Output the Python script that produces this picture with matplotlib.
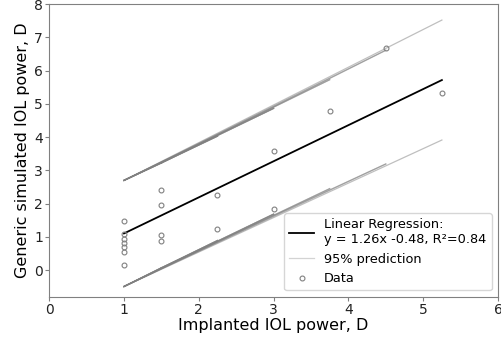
import matplotlib
matplotlib.use("Agg")
import matplotlib.pyplot as plt
import numpy as np

# implanted vs generic simulated IOL power (D), in data order
implanted = [1, 1.5, 4.5, 1, 3, 1, 1.5, 2.25, 1, 3.75, 1, 3, 1.5, 1, 2.25, 1.5, 1, 5.25]
simulated = [1.47, 2.40, 6.67, 1.08, 3.57, 0.93, 1.97, 2.26, 0.81, 4.78, 0.69,
             1.84, 1.05, 0.54, 1.25, 0.88, 0.15, 5.33]

# drawn regression line and legend text
line_slope = 1.085
line_intercept = 0.02
reg_label = "Linear Regression:\ny = 1.26x -0.48, R\u00b2=0.84"
t_val = 2.0

x = np.array(implanted)
y = np.array(simulated)
n = len(x)
b, a = np.polyfit(x, y, 1)
s = np.sqrt(np.sum((y - (b * x + a)) ** 2) / (n - 2))
sxx = np.sum((x - x.mean()) ** 2)

center = line_slope * x + line_intercept
half = t_val * s * np.sqrt(1 + 1 / n + (x - x.mean()) ** 2 / sxx)
upper = center + half
lower = center - half

fig = plt.figure(figsize=(5.02, 3.4), dpi=100)
ax = fig.add_axes([0.098, 0.127, 0.894, 0.861])

order = np.argsort(x)
ax.plot(x[order], center[order], color='black', lw=1.3, label=reg_label)

# prediction band drawn segment by segment in data order
for band in (upper, lower):
    for i in range(n - 1):
        ax.plot(x[i:i + 2], band[i:i + 2], color='gray', lw=0.9, alpha=0.5)
ax.plot([], [], color='lightgray', lw=0.9, label='95% prediction')

ax.plot(x, y, 'o', mfc='none', mec='gray', ms=3.5, mew=0.8, label='Data')

ax.set_xlim(0, 6)
ax.set_ylim(-0.8, 8)
ax.set_xlabel("Implanted IOL power, D", fontsize=11.5, labelpad=1)
ax.set_ylabel("Generic simulated IOL power, D", fontsize=11.5, labelpad=3)
ax.tick_params(labelsize=10, colors='#222222', color='gray', length=3, pad=1.5)
for sp in ax.spines.values():
    sp.set_color('gray')

ax.legend(loc='lower right', fontsize=9.3, handlelength=1.9)

fig.savefig("out.png", dpi=100)
